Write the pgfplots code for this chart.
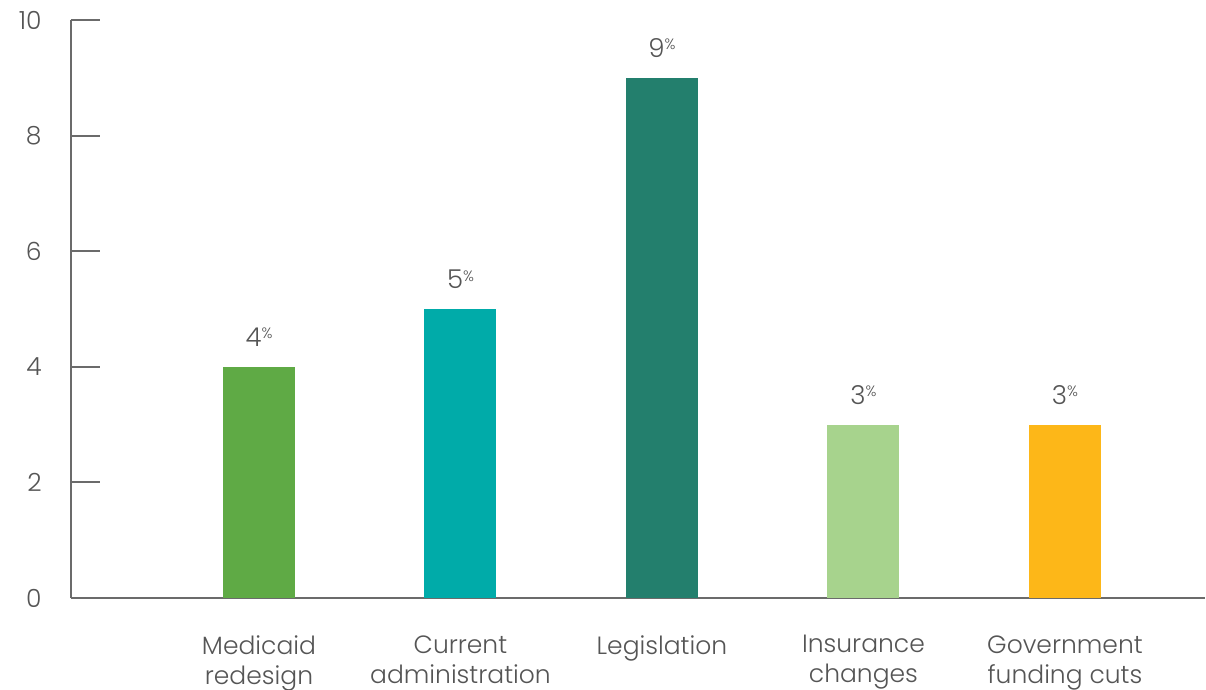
\documentclass[border=0pt]{standalone}
\usepackage{pgfplots}
\pgfplotsset{compat=1.18}
\usepackage{fontspec}
\setmainfont{Poppins}[UprightFont=* Light]
\definecolor{txt}{HTML}{555555}
\definecolor{axc}{HTML}{6B6B6B}
\definecolor{c1}{HTML}{5FAA45}
\definecolor{c2}{HTML}{00ABA9}
\definecolor{c3}{HTML}{237F6D}
\definecolor{c4}{HTML}{A7D38D}
\definecolor{c5}{HTML}{FDB718}
\begin{document}
\begin{tikzpicture}
\begin{axis}[
  scale only axis, width=567pt, height=289pt,
  xmin=-0.933, xmax=4.695, ymin=0, ymax=10,
  axis lines=left, axis line style={-, draw=axc, line width=1pt},
  ytick={0,2,4,6,8,10},
  tick align=inside, major tick length=14.5pt,
  ytick style={draw=axc, line width=1pt},
  xtick={0,1,2,3,4}, xtick style={draw=none},
  xticklabels={{Medicaid\\redesign},{Current\\administration},{Legislation},{Insurance\\changes},{Government\\funding cuts}},
  font=\fontsize{12.5}{15}\selectfont, 
  /pgf/number format/assume math mode=true,
  yticklabel style={inner sep=0pt, xshift=-14.5pt, text=txt},
  xticklabel style={anchor=north, inner sep=0pt, yshift=-4pt, align=center, text=txt},
  ybar, bar width=36pt, bar shift=0pt,
  nodes near coords={\pgfmathprintnumber[assume math mode=true]{\pgfplotspointmeta}\raisebox{0.55ex}{\fontsize{7.5}{8}\selectfont\%}},
  nodes near coords style={anchor=base, inner sep=0pt, yshift=10pt, text=txt, font=\fontsize{13}{15}\selectfont},
  clip=false,
]
\coordinate (ll) at (rel axis cs:0,0);
\addplot[fill=c1, draw=none] coordinates {(0,4)};
\addplot[fill=c2, draw=none] coordinates {(1,5)};
\addplot[fill=c3, draw=none] coordinates {(2,9)};
\addplot[fill=c4, draw=none] coordinates {(3,3)};
\addplot[fill=c5, draw=none] coordinates {(4,3)};
\end{axis}
\pgfresetboundingbox
\path (ll) ++(-35.5pt,-46pt) rectangle ++(603pt,345pt);
\end{tikzpicture}
\end{document}
